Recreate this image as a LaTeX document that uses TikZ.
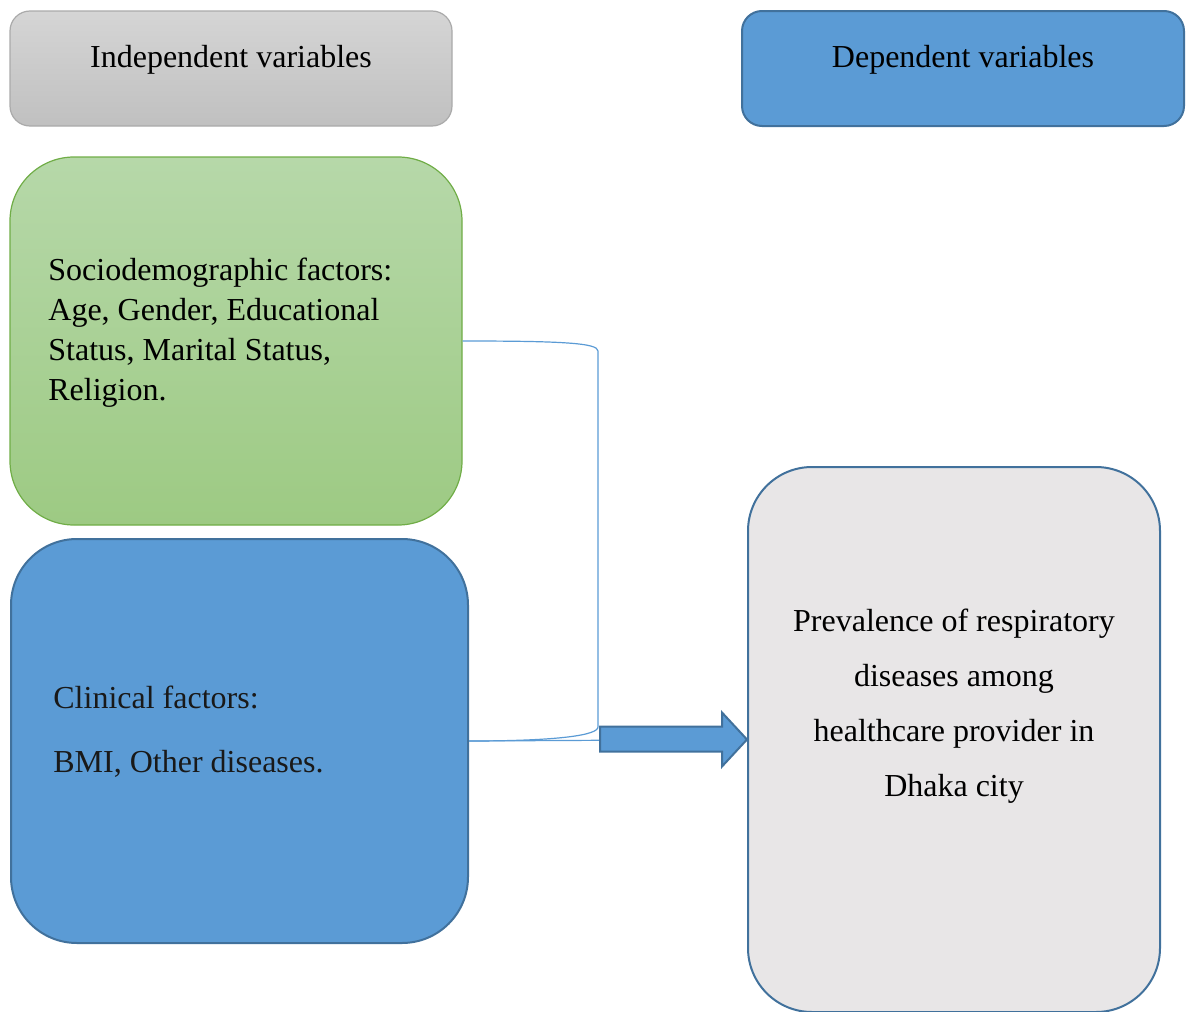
\documentclass[tikz,border=0pt]{standalone}
\usepackage{fontspec}
\setmainfont{Liberation Serif}
\usetikzlibrary{positioning}

\definecolor{hdrgraytop}{RGB}{213,213,213}
\definecolor{hdrgraybot}{RGB}{192,192,192}
\definecolor{hdrgrayline}{RGB}{170,170,170}
\definecolor{wordblue}{RGB}{91,155,213}
\definecolor{wordblueline}{RGB}{65,113,156}
\definecolor{greentop}{RGB}{182,216,169}
\definecolor{greenbot}{RGB}{157,202,131}
\definecolor{greenline}{RGB}{112,173,71}
\definecolor{outgray}{RGB}{232,230,231}

\begin{document}
\begin{tikzpicture}[x=0.5pt,y=-0.5pt]
\tikzset{
  box/.style={rectangle, inner sep=0pt, line width=1pt},
  hdr/.style={box, minimum width=221pt, minimum height=57.5pt, rounded corners=10pt},
  txt/.style={inner sep=0pt, font=\fontsize{16}{20}\selectfont},
  conn/.style={draw=wordblue, line width=0.6pt}
}
\useasboundingbox (0,0) rectangle (1189,1012);

\node[hdr, top color=hdrgraytop, bottom color=hdrgraybot, draw=hdrgrayline, line width=0.6pt] (indep) at (231,68.5) {};
\node[hdr, fill=wordblue, draw=wordblueline] (dep) at (963,68.5) {};

\node[box, minimum width=226pt, minimum height=184pt, rounded corners=32pt,
      top color=greentop, bottom color=greenbot, draw=greenline, line width=0.6pt] (socio) at (236,341) {};
\node[box, minimum width=228.5pt, minimum height=202pt, rounded corners=33pt,
      fill=wordblue, draw=wordblueline] (clinical) at (239.5,741) {};
\node[box, minimum width=206pt, minimum height=272.5pt, rounded corners=32pt,
      fill=outgray, draw=wordblueline] (outcome) at (954,739.5) {};

\node[txt, anchor=base] (indeplbl) at (231,68) {Independent variables};
\node[txt, anchor=base] (deplbl) at (963,68) {Dependent variables};
\node[txt, anchor=base west, align=left] (sociolbl) at (48,400)
  {Sociodemographic factors:\\Age, Gender, Educational\\Status, Marital Status,\\Religion.};
\node[txt, anchor=base west, align=left, font=\fontsize{16}{32}\selectfont, text=black!90] (clinicallbl) at (53,772)
  {Clinical factors:\\BMI, Other diseases.};
\node[txt, anchor=base, align=center, font=\fontsize{16}{27.5}\selectfont] (outcomelbl) at (954,796)
  {Prevalence of respiratory\\diseases among\\healthcare provider in\\Dhaka city};

\coordinate (brtop) at (598,351);
\coordinate (brbot) at (598,727);
\draw[conn] (socio.east) .. controls +(100,0) and (598,343) .. (brtop) -- (brbot)
  .. controls (598,735) and (560,741) .. (clinical.east);
\draw[conn] (clinical.east) -- (outcome.west);

\draw[fill=wordblue, draw=wordblueline, line width=1pt] (outcome.west) -- ++(-25,-27) -- ++(0,14)
  -- ++(-122,0) -- ++(0,25) -- ++(122,0) -- ++(0,15) -- cycle;
\end{tikzpicture}
\end{document}
